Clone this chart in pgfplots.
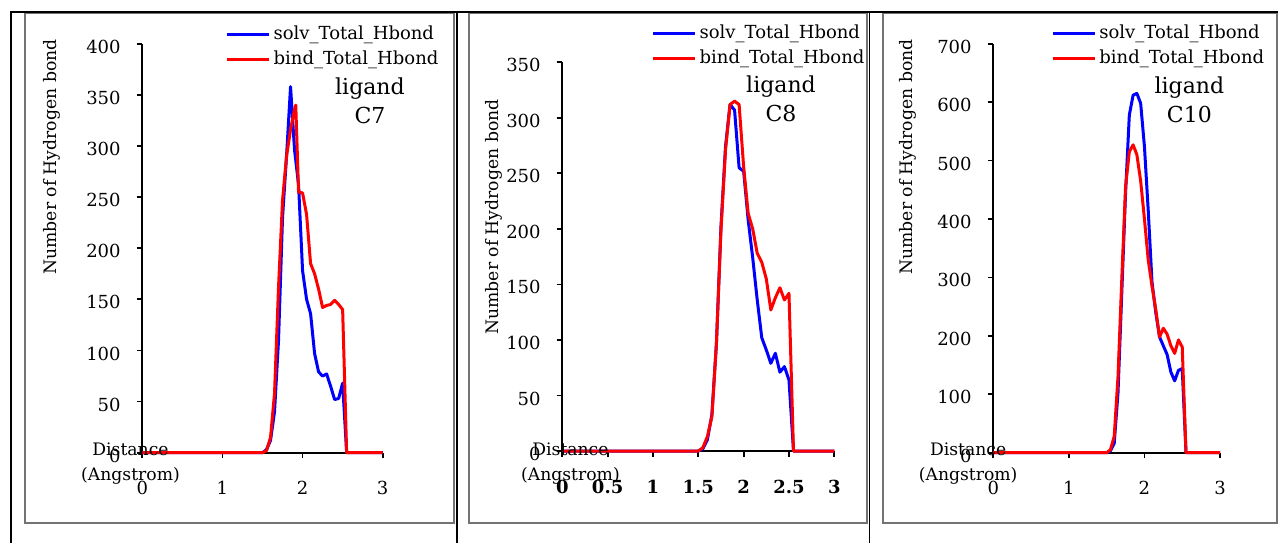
\documentclass[border=0pt]{standalone}
\usepackage{fontspec}
\setmainfont{DejaVu Serif}
\usepackage{pgfplots}
\pgfplotsset{compat=1.18}

% shared look of the three panels
\pgfplotsset{
  hbond/.style={
    scale only axis,
    anchor=south west,
    xmin=0, xmax=3, ymin=0,
    clip=false,
    axis x line*=bottom, axis y line*=left,
    axis line style={-, line width=0.9pt},
    tick style={black, line width=0.9pt},
    tick align=outside,
    major tick length=2.8pt,
    /pgf/number format/assume math mode=true,
    ticklabel style={font=\fontsize{9}{10}\selectfont},
    xticklabel shift=8pt,
    yticklabel shift=4.5pt,
    yticklabel style={yshift=-1.5pt},
    label style={font=\fontsize{8.6}{12.5}\selectfont},
    xlabel={Distance\\(Angstrom)},
    xlabel style={anchor=center, align=center},
    ylabel={Number of Hydrogen bond},
    ylabel style={anchor=center},
    legend style={draw=none, fill=none, anchor=north west, inner sep=0pt,
      row sep=1.1pt, nodes={inner sep=1.5pt, text depth=0.15em},
      font=\fontsize{9}{10.8}\selectfont},
    legend cell align=left,
    legend image code/.code={\draw[##1] (0pt,0pt) -- (21pt,0pt);},
  },
  solv/.style={color={rgb,255:red,0;green,0;blue,255}, line width=1.5pt, line join=round},
  bind/.style={color={rgb,255:red,255;green,0;blue,0}, line width=1.5pt, line join=round},
}
\tikzset{ligand/.style={font=\fontsize{11}{14.5}\selectfont, align=center, anchor=center}}

\begin{document}
\begin{tikzpicture}
\useasboundingbox (0pt,0pt) rectangle (639pt,-271.5pt);

% table rules and chart frames (pixel units, y down)
\begin{scope}[x=0.5pt, y=-0.5pt]
  \draw[black!55, line width=1.1pt] (25,13.3) rectangle (454,523.3);
  \draw[black!55, line width=1.1pt] (469,13.3) rectangle (867,523.3);
  \draw[black!55, line width=1.1pt] (883,13.3) rectangle (1277,523.3);
  \draw[black, line width=0.85pt] (10.7,543) -- (10.7,12) -- (1290,12);
  \draw[black, line width=0.85pt] (457,12) -- (457,543);
  \draw[black, line width=0.85pt] (869.5,12) -- (869.5,543);
\end{scope}

% ligand C7
\begin{axis}[hbond, at={(71.15pt,-226.35pt)}, width=120.2pt, height=204.5pt,
  ymax=400, xtick={0,1,2,3}, ytick={0,50,...,400},
  xlabel style={at={(axis description cs:-0.049,-0.0276)}},
  ylabel style={at={(axis description cs:-0.377,0.723)}},
  legend style={at={(axis description cs:0.345,1.052)}}]
\addplot[solv] coordinates {(0,0) (1.5,0) (1.55,3) (1.6,12) (1.65,40) (1.7,110)
  (1.75,230) (1.8,290) (1.85,358) (1.9,296) (1.95,262) (2,178) (2.05,150)
  (2.1,136) (2.15,97) (2.2,79) (2.25,75) (2.3,77) (2.35,65) (2.4,52)
  (2.45,53) (2.5,68) (2.55,0) (3,0)};
\addlegendentry{solv\_Total\_Hbond}
\addplot[bind] coordinates {(0,0) (1.5,0) (1.55,2) (1.6,15) (1.65,58) (1.7,162)
  (1.75,247) (1.8,290) (1.85,316) (1.9,336) (1.915,340) (1.95,255) (2,254)
  (2.05,233) (2.1,185) (2.15,175) (2.2,160) (2.25,142) (2.3,144) (2.35,145)
  (2.4,149) (2.45,145) (2.5,140) (2.55,0) (3,0)};
\addlegendentry{bind\_Total\_Hbond}
\node[ligand] at (axis description cs:0.947,0.861) {ligand\\C7};
\end{axis}

% ligand C8
\begin{axis}[hbond, at={(281.15pt,-225.5pt)}, width=136pt, height=194.35pt,
  ymax=350, xtick={0,0.5,...,3}, ytick={0,50,...,350},
  xticklabel style={font=\fontsize{9}{10}\selectfont\bfseries},
  xlabel style={at={(axis description cs:0.030,-0.0334)}},
  ylabel style={at={(axis description cs:-0.251,0.602)}},
  legend style={at={(axis description cs:0.327,1.105)}}]
\addplot[solv] coordinates {(0,0) (1.5,0) (1.55,2) (1.6,10) (1.65,33) (1.7,97)
  (1.75,202) (1.8,274) (1.85,312) (1.9,307) (1.95,255) (2,252) (2.05,208)
  (2.1,174) (2.15,136) (2.2,102) (2.25,91) (2.3,79) (2.35,88) (2.4,71)
  (2.45,76) (2.5,64) (2.55,0) (3,0)};
\addlegendentry{solv\_Total\_Hbond}
\addplot[bind] coordinates {(0,0) (1.5,0) (1.55,3) (1.6,13) (1.65,31) (1.7,97)
  (1.75,199) (1.8,271) (1.85,312) (1.9,315) (1.95,312) (2,256) (2.05,214)
  (2.1,200) (2.15,178) (2.2,170) (2.25,155) (2.3,127) (2.35,138) (2.4,147)
  (2.45,136) (2.5,142) (2.55,0) (3,0)};
\addlegendentry{bind\_Total\_Hbond}
\node[ligand] at (axis description cs:0.804,0.906) {ligand\\C8};
\end{axis}

% ligand C10
\begin{axis}[hbond, at={(496.65pt,-226.35pt)}, width=113.35pt, height=204.5pt,
  ymax=700, xtick={0,1,2,3}, ytick={0,100,...,700},
  xlabel style={at={(axis description cs:-0.111,-0.0276)}},
  ylabel style={at={(axis description cs:-0.376,0.723)}},
  legend style={at={(axis description cs:0.2545,1.054)}}]
\addplot[solv] coordinates {(0,0) (1.5,0) (1.55,3) (1.6,16) (1.65,102) (1.7,273)
  (1.75,444) (1.8,578) (1.85,612) (1.9,615) (1.95,598) (2,524) (2.05,415)
  (2.1,292) (2.15,240) (2.2,198) (2.25,183) (2.3,168) (2.35,138) (2.4,123)
  (2.45,141) (2.5,144) (2.55,0) (3,0)};
\addlegendentry{solv\_Total\_Hbond}
\addplot[bind] coordinates {(0,0) (1.5,0) (1.55,5) (1.6,28) (1.65,130) (1.7,296)
  (1.75,455) (1.8,515) (1.85,527) (1.9,510) (1.95,465) (2,400) (2.05,330)
  (2.1,285) (2.15,245) (2.2,198) (2.25,213) (2.3,203) (2.35,183) (2.4,170)
  (2.45,193) (2.5,181) (2.55,0) (3,0)};
\addlegendentry{bind\_Total\_Hbond}
\node[ligand] at (axis description cs:0.865,0.862) {ligand\\C10};
\end{axis}
\end{tikzpicture}
\end{document}
